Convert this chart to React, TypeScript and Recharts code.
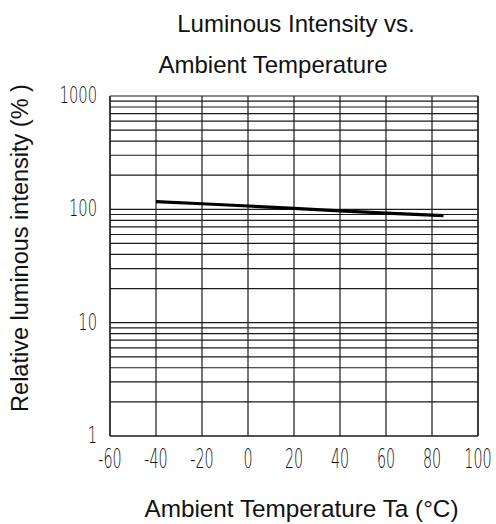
import React from "react";
import { LineChart, Line, XAxis, YAxis, CartesianGrid, ReferenceLine } from "recharts";

const temps = [-40, -20, 0, 20, 40, 60, 85];
const intensity = [117, 112, 107, 102, 97, 92.5, 88];
const xTicks = [-60, -40, -20, 0, 20, 40, 60, 80, 100];
const yTicks = [1, 10, 100, 1000];
const minorGrid = [2, 3, 4, 5, 6, 7, 8, 9, 20, 30, 40, 50, 60, 70, 80, 90, 200, 300, 400, 500, 600, 700, 800, 900];

const data = temps.map((t, i) => ({ t, v: intensity[i] }));

const font = "'Liberation Sans', Arial, sans-serif";
const tickFont = "'DejaVu Sans', sans-serif";
const gridColor = "#1a1a1a";

function XTick({ x, y, payload }: any) {
    return <g transform={`translate(${x},${y + 32})`}>
        <text transform="scale(0.55,1)" textAnchor="middle" fontSize={26} fontWeight={200} fontFamily={tickFont} fill="#111">
            {payload.value}
        </text>
    </g>
}

function YTick({ x, y, payload }: any) {
    return <g transform={`translate(${x - 13},${y + 7})`}>
        <text transform="scale(0.64,1)" textAnchor="end" fontSize={23} fontWeight={200} fontFamily={tickFont} fill="#111">
            {payload.value}
        </text>
    </g>
}

export default function App() {
    return <div style={{ position: "absolute", left: 0, top: 0, width: 496, height: 524, background: "#fff" }}>
        <LineChart width={496} height={524} data={data} margin={{ top: 96, right: 18, bottom: 58, left: 0 }}>
            <CartesianGrid horizontal={false} stroke={gridColor} strokeWidth={1.2} />
            {minorGrid.map((g) => <ReferenceLine key={g} y={g} stroke={gridColor} strokeWidth={1.2} ifOverflow="visible" />)}
            {yTicks.map((g) => <ReferenceLine key={"m" + g} y={g} stroke={gridColor} strokeWidth={1.2} ifOverflow="visible" />)}
            <ReferenceLine x={100} stroke={gridColor} strokeWidth={1.2} ifOverflow="visible" />
            <XAxis
                dataKey="t"
                type="number"
                domain={[-60, 100]}
                ticks={xTicks}
                interval={0}
                height={30}
                tickSize={0}
                tickMargin={0}
                tickLine={false}
                axisLine={{ stroke: gridColor, strokeWidth: 1.2 }}
                tick={<XTick />}
            />
            <YAxis
                type="number"
                scale="log"
                domain={[1, 1000]}
                ticks={yTicks}
                interval={0}
                allowDataOverflow
                width={110}
                tickSize={0}
                tickMargin={0}
                tickLine={false}
                axisLine={{ stroke: gridColor, strokeWidth: 1.2 }}
                tick={<YTick />}
            />
            <Line type="linear" dataKey="v" stroke="#000" strokeWidth={3.2} dot={false} isAnimationActive={false} />
        </LineChart>
        <svg width={496} height={524} style={{ position: "absolute", left: 0, top: 0, pointerEvents: "none" }}>
            <g fontFamily={font} fill="#111">
                <text x={296} y={31.5} textAnchor="middle" fontSize={24}>Luminous Intensity vs.</text>
                <text x={273} y={73} textAnchor="middle" fontSize={24}>Ambient Temperature</text>
                <text x={301.5} y={517} textAnchor="middle" fontSize={24.3}>Ambient Temperature Ta (°C)</text>
                <text transform="translate(28,248) rotate(-90)" textAnchor="middle" fontSize={23.5}>Relative luminous intensity  (% )</text>
            </g>
        </svg>
    </div>
}
